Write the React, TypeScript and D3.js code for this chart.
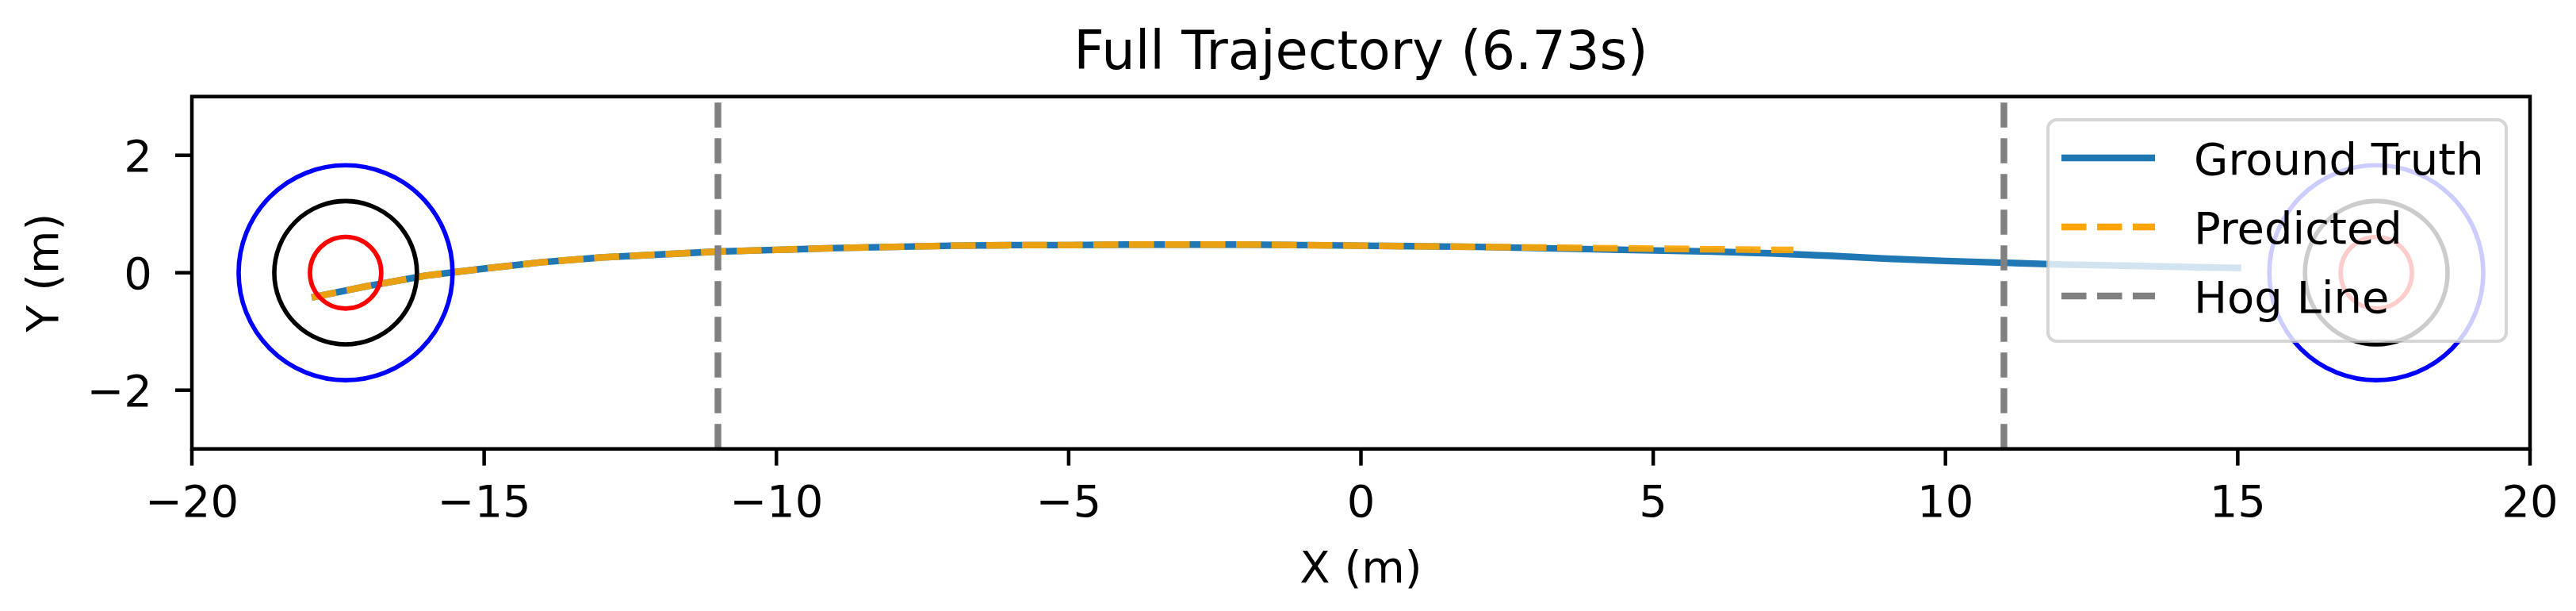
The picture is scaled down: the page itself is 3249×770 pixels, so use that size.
import { useRef, useEffect } from 'react';
import * as d3 from 'd3';

const title = 'Full Trajectory (6.73s)';

// ground truth path (m)
const gtX = [-17.95, -17, -16, -15, -14, -13, -12, -11, -10, -9, -8, -7, -6, -5, -4, -3, -2, -1, 0, 1, 2, 3, 4, 5, 6, 7, 8, 9, 10, 11, 12, 13, 14, 15.06];
const gtY = [-0.42, -0.23, -0.05, 0.07, 0.18, 0.26, 0.31, 0.36, 0.39, 0.42, 0.44, 0.46, 0.47, 0.47, 0.48, 0.48, 0.48, 0.47, 0.46, 0.45, 0.44, 0.42, 0.40, 0.38, 0.36, 0.33, 0.29, 0.24, 0.20, 0.17, 0.14, 0.12, 0.10, 0.08];

// predicted path (m)
const predX = [-17.95, -17, -16, -15, -14, -13, -12, -11, -10, -9, -8, -7, -6, -5, -4, -3, -2, -1, 0, 1, 2, 3, 4, 5, 6, 7, 7.4];
const predY = [-0.42, -0.23, -0.05, 0.07, 0.18, 0.26, 0.31, 0.36, 0.39, 0.42, 0.44, 0.46, 0.47, 0.47, 0.48, 0.48, 0.48, 0.47, 0.46, 0.45, 0.44, 0.43, 0.42, 0.41, 0.40, 0.39, 0.39];

const houseCenters = [-17.37, 17.37];
const ringRadii = [1.83, 1.22, 0.61];
const ringColors = ['blue', 'black', 'red'];
const hogLines = [-11, 11];

const xTicks = [-20, -15, -10, -5, 0, 5, 10, 15, 20];
const yTicks = [-2, 0, 2];
const legendLabels = ['Ground Truth', 'Predicted', 'Hog Line'];

const W = 3249;
const H = 770;
const FONT = 'DejaVu Sans, sans-serif';

const App = () => {
  const svgRef = useRef<SVGSVGElement>(null);

  useEffect(() => {
    const svg = d3.select(svgRef.current);
    svg.selectAll('*').remove();

    const left = 242;
    const right = 3191;
    const top = 121.7;
    const bottom = 565.7;
    const fs = 56;
    const lw = 8.4;
    const dash = '31.5,13.5';

    const x = d3.scaleLinear([-20, 20], [left, right]);
    const y = d3.scaleLinear([-3, 3], [bottom, top]);

    svg.append('rect').attr('width', W).attr('height', H).attr('fill', 'white');

    const clipId = 'plotclip';
    svg.append('clipPath').attr('id', clipId)
      .append('rect').attr('x', left).attr('y', top).attr('width', right - left).attr('height', bottom - top);

    const plot = svg.append('g').attr('clip-path', `url(#${clipId})`);

    const line = d3.line<number>().curve(d3.curveLinear);

    // ground truth
    plot.append('path')
      .attr('fill', 'none')
      .attr('stroke', '#1f77b4')
      .attr('stroke-width', lw)
      .attr('stroke-linejoin', 'round')
      .attr('d', line.x((i) => x(gtX[i])).y((i) => y(gtY[i]))(d3.range(gtX.length)));

    // predicted
    plot.append('path')
      .attr('fill', 'none')
      .attr('stroke', 'orange')
      .attr('stroke-opacity', 0.9)
      .attr('stroke-width', lw)
      .attr('stroke-dasharray', dash)
      .attr('d', line.x((i) => x(predX[i])).y((i) => y(predY[i]))(d3.range(predX.length)));

    // houses
    houseCenters.forEach((cx) => {
      ringRadii.forEach((r, k) => {
        plot.append('ellipse')
          .attr('cx', x(cx))
          .attr('cy', y(0))
          .attr('rx', x(r) - x(0))
          .attr('ry', y(0) - y(r))
          .attr('fill', 'none')
          .attr('stroke', ringColors[k])
          .attr('stroke-width', 5.6);
      });
    });

    // hog lines
    hogLines.forEach((hx) => {
      plot.append('line')
        .attr('x1', x(hx)).attr('x2', x(hx))
        .attr('y1', bottom).attr('y2', top)
        .attr('stroke', 'gray')
        .attr('stroke-width', lw)
        .attr('stroke-dasharray', dash);
    });

    // axes
    const xAxis = svg.append('g').attr('transform', `translate(0,${bottom})`);
    xTicks.forEach((t) => {
      xAxis.append('line').attr('x1', x(t)).attr('x2', x(t)).attr('y1', 0).attr('y2', 21)
        .attr('stroke', 'black').attr('stroke-width', 4.5);
      xAxis.append('text').attr('x', x(t)).attr('y', 85)
        .attr('text-anchor', 'middle').attr('font-family', FONT).attr('font-size', fs)
        .text(d3.format('')(t).replace('-', '\u2212'));
    });

    const yAxis = svg.append('g').attr('transform', `translate(${left},0)`);
    yTicks.forEach((t) => {
      yAxis.append('line').attr('x1', 0).attr('x2', -21).attr('y1', y(t)).attr('y2', y(t))
        .attr('stroke', 'black').attr('stroke-width', 4.5);
      yAxis.append('text').attr('x', -50).attr('y', y(t) + 20.5)
        .attr('text-anchor', 'end').attr('font-family', FONT).attr('font-size', fs)
        .text(String(t).replace('-', '\u2212'));
    });

    svg.append('rect')
      .attr('x', left).attr('y', top).attr('width', right - left).attr('height', bottom - top)
      .attr('fill', 'none').attr('stroke', 'black').attr('stroke-width', 4.5);

    // labels
    svg.append('text').attr('x', (left + right) / 2).attr('y', 87)
      .attr('text-anchor', 'middle').attr('font-family', FONT).attr('font-size', 67)
      .text(title);
    svg.append('text').attr('x', (left + right) / 2).attr('y', 734)
      .attr('text-anchor', 'middle').attr('font-family', FONT).attr('font-size', fs)
      .text('X (m)');
    svg.append('text')
      .attr('transform', `translate(73,${(top + bottom) / 2}) rotate(-90)`)
      .attr('text-anchor', 'middle').attr('font-family', FONT).attr('font-size', fs)
      .text('Y (m)');

    // legend
    const lg = svg.append('g');
    lg.append('rect')
      .attr('x', 2583).attr('y', 151).attr('width', 3161 - 2583).attr('height', 430 - 151)
      .attr('rx', 11)
      .attr('fill', 'white').attr('fill-opacity', 0.8)
      .attr('stroke', '#cccccc').attr('stroke-opacity', 0.8).attr('stroke-width', 4);
    const rowY = [199, 286, 373];
    const styles = [
      { color: '#1f77b4', dash: null },
      { color: 'orange', dash },
      { color: 'gray', dash },
    ];
    legendLabels.forEach((label, i) => {
      const h = lg.append('line')
        .attr('x1', 2600).attr('x2', 2718)
        .attr('y1', rowY[i]).attr('y2', rowY[i])
        .attr('stroke', styles[i].color).attr('stroke-width', lw);
      if (styles[i].dash) h.attr('stroke-dasharray', styles[i].dash);
      lg.append('text').attr('x', 2767).attr('y', rowY[i] + 20.5)
        .attr('font-family', FONT).attr('font-size', fs)
        .text(label);
    });
  }, []);

  return (
    <svg
      ref={svgRef}
      width={W}
      height={H}
      viewBox={`0 0 ${W} ${H}`}
      style={{ position: 'absolute', left: 0, top: 0, display: 'block' }}
    />
  );
};

export default App;
